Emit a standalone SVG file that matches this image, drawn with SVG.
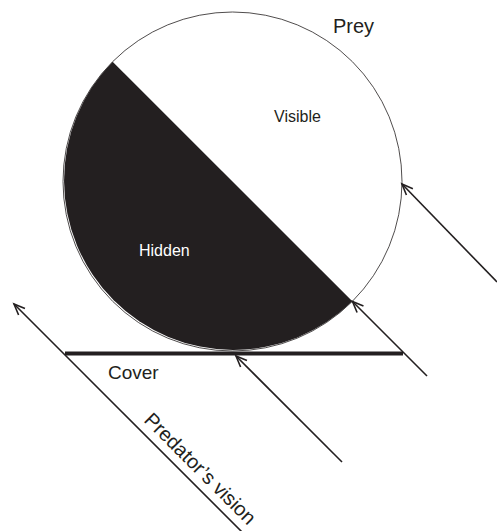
<svg xmlns="http://www.w3.org/2000/svg" width="497" height="531" viewBox="0 0 497 531">
<style>
.lbl{font-family:"Liberation Sans",Arial,sans-serif;fill:#231f20}
.ray{stroke:#231f20;stroke-width:1.6;fill:none;marker-end:url(#ah)}
</style>
<defs>
<marker id="ah" markerUnits="userSpaceOnUse" markerWidth="16" markerHeight="12" viewBox="-12 -6 14 12" refX="0" refY="0" orient="auto">
<path d="M-11,-4.5 L0,0 L-11,4.5" fill="none" stroke="#231f20" stroke-width="1.6"/>
</marker>
</defs>
<rect width="497" height="531" fill="#fff"/>
<g id="prey">
<circle cx="232.5" cy="181.5" r="169.5" fill="#fff" stroke="#231f20" stroke-width="0.8"/>
<path d="M112.65,61.65 A169.5,169.5 0 0 0 352.35,301.35 Z" fill="#231f20"/>
<text class="lbl" x="333" y="33" font-size="20">Prey</text>
<text class="lbl" x="274" y="122" font-size="16">Visible</text>
<text class="lbl" x="139" y="256" font-size="16" style="fill:#fff">Hidden</text>
</g>
<g id="cover">
<line x1="65" y1="353.5" x2="403" y2="353.5" stroke="#231f20" stroke-width="4"/>
<text class="lbl" x="108" y="379" font-size="19">Cover</text>
</g>
<g id="connectors">
<line class="ray" x1="247" y1="537" x2="14" y2="304"/>
<line class="ray" x1="342" y1="462" x2="236" y2="356"/>
<line class="ray" x1="427" y1="376" x2="352.5" y2="301.5"/>
<line class="ray" x1="497" y1="282" x2="402" y2="184"/>
</g>
<g id="predator-label">
<text class="lbl" font-size="20" transform="translate(143,421) rotate(45)">Predator’s vision</text>
</g>
</svg>
